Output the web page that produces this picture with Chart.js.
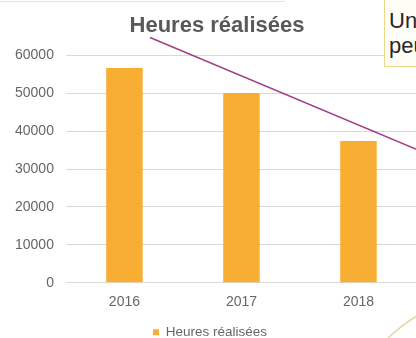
<!DOCTYPE html>
<html lang="fr">
<head>
<meta charset="utf-8">
<title>Heures réalisées</title>
<script src="https://cdn.jsdelivr.net/npm/chart.js@4.4.1/dist/chart.umd.min.js"></script>
<style>
  html, body { margin: 0; padding: 0; background: #ffffff; overflow: hidden; width: 416px; height: 338px; }
  #wrap { position: relative; width: 416px; height: 338px; overflow: hidden; }
  #chart { position: absolute; left: 0; top: 0; }
  .note {
    position: absolute; left: 384px; top: -2px; width: 120px;
    padding: 9px 3px 8px 4px;
    border: 1px solid #e9d889; background: #fffef6;
    font: 22px/25px "Liberation Sans", Arial, sans-serif; color: #262626;
    white-space: nowrap;
  }
</style>
</head>
<body>
<div id="wrap">
  <canvas id="chart" width="436" height="349"></canvas>
  <div class="note">Une<br>peu</div>
</div>
<script>
// Hours completed per year
const years = ['2016', '2017', '2018'];
const hours = [56700, 50100, 37400];
const seriesName = 'Heures réalisées';
const yTicks = [0, 10000, 20000, 30000, 40000, 50000, 60000];

const FONT = '"Liberation Sans", Arial, sans-serif';
const TITLE_TEXT = '#595959';
const TICK_TEXT = '#666666';
const GRID = '#d9d9d9';
const BAR = '#f7ae33';

// The title is centred over the whole slide frame, a little right of the plot's own centre
const titleOffset = {
  id: 'titleOffset',
  afterLayout(chart) {
    if (chart.titleBlock) chart.titleBlock.left += 14;
  }
};

// Decorative strokes around the plot: header rule, callout pointer and corner arc
const decorations = {
  id: 'decorations',
  afterDraw(chart) {
    const ctx = chart.ctx;
    ctx.save();
    ctx.strokeStyle = '#e3e3e3';
    ctx.lineWidth = 1;
    ctx.beginPath();
    ctx.moveTo(0, 1.5);
    ctx.lineTo(285, 1.5);
    ctx.stroke();

    ctx.strokeStyle = 'rgba(152, 42, 122, 0.9)';
    ctx.lineWidth = 1.5;
    ctx.beginPath();
    ctx.moveTo(150, 37.5);
    ctx.lineTo(436, 157.5);
    ctx.stroke();

    ctx.strokeStyle = 'rgba(225, 205, 140, 0.8)';
    ctx.lineWidth = 1.5;
    ctx.beginPath();
    ctx.moveTo(386, 340);
    ctx.quadraticCurveTo(400, 326, 420, 314);
    ctx.stroke();
    ctx.restore();
  }
};

new Chart(document.getElementById('chart'), {
  type: 'bar',
  data: {
    labels: years,
    datasets: [{
      label: seriesName,
      data: hours,
      backgroundColor: BAR,
      borderWidth: 0,
      categoryPercentage: 1,
      barPercentage: 0.312
    }]
  },
  options: {
    responsive: false,
    devicePixelRatio: 1,
    animation: false,
    layout: { padding: { left: 3, right: 19, top: 0, bottom: 0 } },
    plugins: {
      title: {
        display: true,
        text: seriesName,
        color: TITLE_TEXT,
        font: { family: FONT, size: 22, weight: 'bold' },
        padding: { top: 13, bottom: 16 }
      },
      legend: {
        display: true,
        position: 'bottom',
        labels: {
          color: TICK_TEXT,
          font: { family: FONT, size: 13.5 },
          boxWidth: 6,
          boxHeight: 6,
          padding: 4
        }
      },
      tooltip: { enabled: false }
    },
    scales: {
      x: {
        grid: { display: false, drawTicks: false },
        border: { display: false },
        ticks: { color: TICK_TEXT, font: { family: FONT, size: 14 }, padding: 11 }
      },
      y: {
        min: yTicks[0],
        max: yTicks[yTicks.length - 1],
        afterBuildTicks(axis) { axis.ticks = yTicks.map(v => ({ value: v })); },
        grid: { color: GRID, lineWidth: 1, drawTicks: false },
        border: { display: false },
        ticks: {
          color: TICK_TEXT,
          font: { family: FONT, size: 14 },
          padding: 12,
          callback: v => String(v)
        }
      }
    }
  },
  plugins: [titleOffset, decorations]
});
</script>
</body>
</html>
